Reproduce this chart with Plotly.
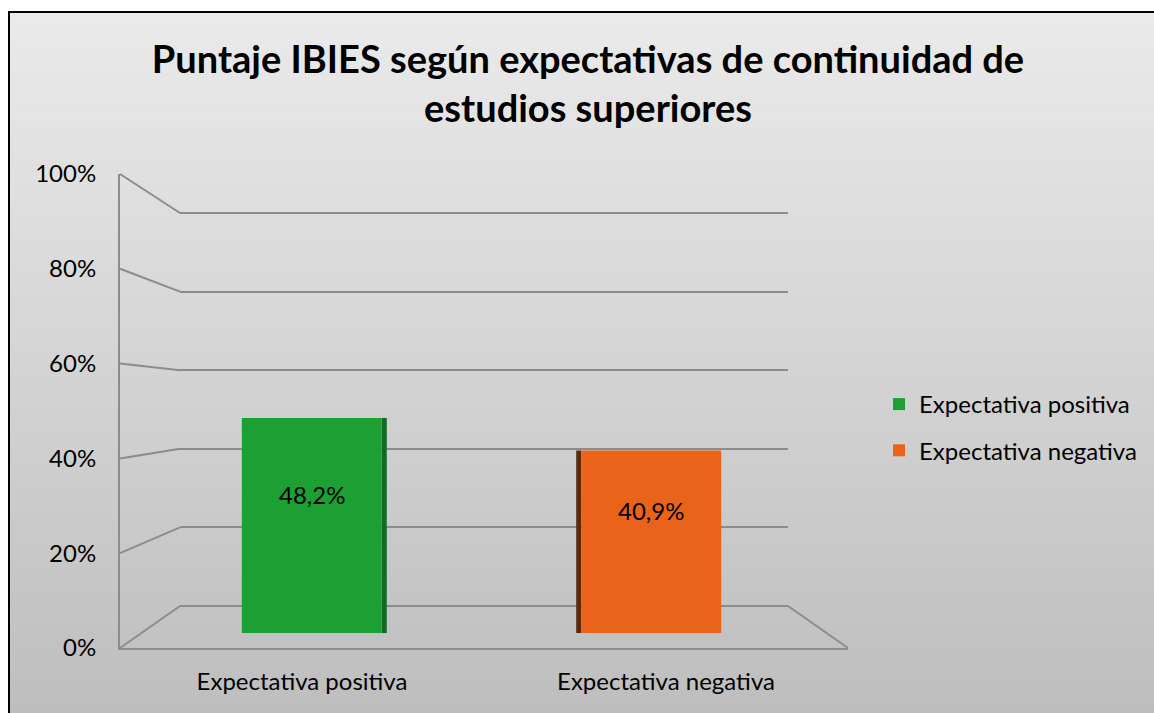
import plotly.graph_objects as go

# data
categories = ["Expectativa positiva", "Expectativa negativa"]
values = [0.482, 0.409]
bar_colors = ["#1c9f33", "#e9631a"]
side_colors = ["#126b22", "#5a2a0c"]
tick_values = [0, 0.2, 0.4, 0.6, 0.8, 1.0]
title_text = "Puntaje IBIES según expectativas de continuidad de<br>estudios superiores"

W, H = 1154, 713
FONT = "Lato"
GRID = "#8c8c8c"


def px_x(p):
    return p / W


def px_y(p):
    return 1 - p / H


# fake 3D box: front plane, back wall, and the plane the bars stand in
front_x = [px_x(120), px_x(848)]
front_y = [px_y(648), px_y(174)]
back_x = [px_x(180), px_x(788)]
back_y = [px_y(606), px_y(213)]
bar_x = [px_x(142), px_x(821)]
bar_y = [px_y(633), px_y(187)]

# pad the back wall range a bit so the 0% and 100% gridlines are drawn
pad = 0.01
d = back_y[1] - back_y[0]
back_y_dom = [back_y[0] - pad * d, back_y[1] + pad * d]

bar_w = 0.412
side_w = 0.015

fig = go.Figure()

# back wall (only gridlines)
fig.add_trace(go.Scatter(x=[0], y=[0], mode="markers", marker=dict(opacity=0),
                         hoverinfo="skip", showlegend=False, xaxis="x", yaxis="y"))
# front axes (tick labels, category labels)
fig.add_trace(go.Scatter(x=[categories[0]], y=[0], mode="markers", marker=dict(opacity=0),
                         hoverinfo="skip", showlegend=False, xaxis="x2", yaxis="y2"))

# dark side faces of the columns
fig.add_trace(go.Bar(x=categories, y=values, width=side_w,
                     offset=[bar_w / 2, -bar_w / 2 - side_w],
                     marker=dict(color=side_colors, line=dict(width=0)),
                     hoverinfo="skip", showlegend=False, xaxis="x3", yaxis="y3"))

for cat, v, c in zip(categories, values, bar_colors):
    fig.add_trace(go.Bar(x=[cat], y=[v], name=cat, width=bar_w,
                         marker=dict(color=c, line=dict(width=0)),
                         legendgroup=cat, xaxis="x3", yaxis="y3"))
    fig.add_annotation(x=cat, y=v / 2, xref="x3", yref="y3", yshift=31, showarrow=False,
                       text=f"{v * 100:.1f}%".replace(".", ","),
                       font=dict(family=FONT, size=24, color="#000000"))

# background gradient + black frame
n_bands = 70
top_rgb, bot_rgb = 234, 190
for i in range(n_bands):
    g = round(top_rgb + (bot_rgb - top_rgb) * i / (n_bands - 1))
    y0 = 12 + (H - 12) * i / n_bands
    y1 = 12 + (H - 12) * (i + 1) / n_bands
    fig.add_shape(type="rect", xref="paper", yref="paper", layer="below",
                  x0=px_x(9), x1=1, y0=px_y(y1) - 0.001, y1=px_y(y0),
                  fillcolor=f"rgb({g},{g},{g})", line=dict(width=0))
fig.add_shape(type="rect", xref="paper", yref="paper", layer="above",
              x0=px_x(9), x1=1.01, y0=-0.01, y1=px_y(12),
              line=dict(color="#000000", width=2))

# slanted lines joining the front axis to the back wall
for v in tick_values:
    fy = front_y[0] + v * (front_y[1] - front_y[0])
    by = back_y[0] + v * (back_y[1] - back_y[0])
    fig.add_shape(type="line", xref="paper", yref="paper", x0=front_x[0], y0=fy,
                  x1=back_x[0], y1=by, line=dict(color=GRID, width=2))
fig.add_shape(type="line", xref="paper", yref="paper", x0=front_x[1], y0=front_y[0],
              x1=back_x[1], y1=back_y[0], line=dict(color=GRID, width=2))

fig.update_layout(
    width=W, height=H,
    margin=dict(l=0, r=0, t=0, b=0, autoexpand=False),
    paper_bgcolor="#ffffff",
    plot_bgcolor="rgba(0,0,0,0)",
    barmode="overlay",
    separators=",.",
    font=dict(family=FONT, size=24, color="#000000"),
    title=dict(text=title_text, x=px_x(588), xanchor="center", y=px_y(73), yanchor="middle",
               font=dict(family=FONT, size=38, color="#000000", weight="bold")),
    showlegend=True,
    legend=dict(x=px_x(879), y=px_y(382), xanchor="left", yanchor="top",
                bgcolor="rgba(0,0,0,0)", traceorder="grouped", tracegroupgap=12,
                font=dict(family=FONT, size=24, color="#000000")),
    xaxis=dict(domain=back_x, range=[0, 1], visible=False, anchor="y", automargin=False),
    yaxis=dict(domain=back_y_dom, range=[-pad, 1 + pad], tickvals=tick_values,
               showticklabels=False, showgrid=True, gridcolor=GRID, gridwidth=2,
               zeroline=False, showline=False, anchor="x", automargin=False),
    xaxis2=dict(domain=front_x, type="category", categoryorder="array",
                categoryarray=categories, range=[-0.5, 1.5], anchor="y2",
                showline=True, linecolor=GRID, linewidth=2, showgrid=False,
                ticks="", ticklabelstandoff=11, automargin=False),
    yaxis2=dict(domain=front_y, range=[0, 1], anchor="x2", tickvals=tick_values,
                tickformat=".0%", showline=True, linecolor=GRID, linewidth=2,
                showgrid=False, zeroline=False, ticks="", ticklabelstandoff=17,
                automargin=False),
    xaxis3=dict(domain=bar_x, type="category", categoryorder="array",
                categoryarray=categories, range=[-0.5, 1.5], anchor="y3", visible=False,
                automargin=False),
    yaxis3=dict(domain=bar_y, range=[0, 1], anchor="x3", visible=False, automargin=False),
)

fig.write_html("out.html", config={"displayModeBar": False},
               post_script="document.body.style.margin = '0';")
